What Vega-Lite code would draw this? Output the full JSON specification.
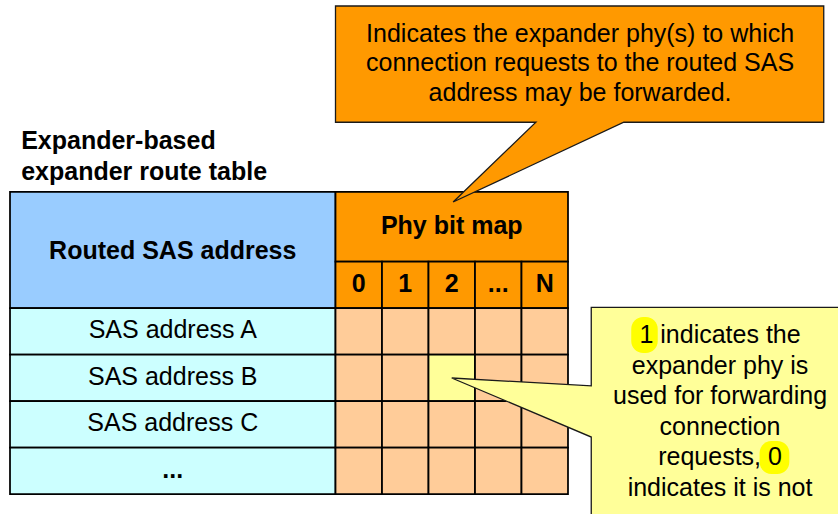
{
  "$schema": "https://vega.github.io/schema/vega-lite/v6.json",
  "width": 838,
  "height": 514,
  "autosize": {"type": "fit", "contains": "padding"},
  "padding": 0,
  "background": "#FFFFFF",
  "config": {"view": {"stroke": null}},
  "datasets": {
    "cells": [
      {"x": 0, "x2": 7, "y": 0, "y2": 2.5, "kind": "addrHead"},
      {"x": 7, "x2": 12, "y": 0, "y2": 1.5, "kind": "phyHead"},
      {"x": 7, "x2": 8, "y": 1.5, "y2": 2.5, "kind": "phyHead"},
      {"x": 8, "x2": 9, "y": 1.5, "y2": 2.5, "kind": "phyHead"},
      {"x": 9, "x2": 10, "y": 1.5, "y2": 2.5, "kind": "phyHead"},
      {"x": 10, "x2": 11, "y": 1.5, "y2": 2.5, "kind": "phyHead"},
      {"x": 11, "x2": 12, "y": 1.5, "y2": 2.5, "kind": "phyHead"},
      {"x": 0, "x2": 7, "y": 2.5, "y2": 3.5, "kind": "addr"},
      {"x": 0, "x2": 7, "y": 3.5, "y2": 4.5, "kind": "addr"},
      {"x": 0, "x2": 7, "y": 4.5, "y2": 5.5, "kind": "addr"},
      {"x": 0, "x2": 7, "y": 5.5, "y2": 6.5, "kind": "addr"},
      {"x": 7, "x2": 8, "y": 2.5, "y2": 3.5, "kind": "bit"},
      {"x": 8, "x2": 9, "y": 2.5, "y2": 3.5, "kind": "bit"},
      {"x": 9, "x2": 10, "y": 2.5, "y2": 3.5, "kind": "bit"},
      {"x": 10, "x2": 11, "y": 2.5, "y2": 3.5, "kind": "bit"},
      {"x": 11, "x2": 12, "y": 2.5, "y2": 3.5, "kind": "bit"},
      {"x": 7, "x2": 8, "y": 3.5, "y2": 4.5, "kind": "bit"},
      {"x": 8, "x2": 9, "y": 3.5, "y2": 4.5, "kind": "bit"},
      {"x": 9, "x2": 10, "y": 3.5, "y2": 4.5, "kind": "set"},
      {"x": 10, "x2": 11, "y": 3.5, "y2": 4.5, "kind": "bit"},
      {"x": 11, "x2": 12, "y": 3.5, "y2": 4.5, "kind": "bit"},
      {"x": 7, "x2": 8, "y": 4.5, "y2": 5.5, "kind": "bit"},
      {"x": 8, "x2": 9, "y": 4.5, "y2": 5.5, "kind": "bit"},
      {"x": 9, "x2": 10, "y": 4.5, "y2": 5.5, "kind": "bit"},
      {"x": 10, "x2": 11, "y": 4.5, "y2": 5.5, "kind": "bit"},
      {"x": 11, "x2": 12, "y": 4.5, "y2": 5.5, "kind": "bit"},
      {"x": 7, "x2": 8, "y": 5.5, "y2": 6.5, "kind": "bit"},
      {"x": 8, "x2": 9, "y": 5.5, "y2": 6.5, "kind": "bit"},
      {"x": 9, "x2": 10, "y": 5.5, "y2": 6.5, "kind": "bit"},
      {"x": 10, "x2": 11, "y": 5.5, "y2": 6.5, "kind": "bit"},
      {"x": 11, "x2": 12, "y": 5.5, "y2": 6.5, "kind": "bit"}
    ],
    "orangeCallout": [
      {"i": 0, "x": 7, "y": -4},
      {"i": 1, "x": 17.5, "y": -4},
      {"i": 2, "x": 17.5, "y": -1.5},
      {"i": 3, "x": 13.2, "y": -1.5},
      {"i": 4, "x": 9.53, "y": 0.215},
      {"i": 5, "x": 11.31, "y": -1.5},
      {"i": 6, "x": 7, "y": -1.5}
    ],
    "yellowCallout": [
      {"i": 0, "x": 12.5, "y": 2.48},
      {"i": 1, "x": 18.3, "y": 2.48},
      {"i": 2, "x": 18.3, "y": 7.4},
      {"i": 3, "x": 12.5, "y": 7.4},
      {"i": 4, "x": 12.5, "y": 5.27},
      {"i": 5, "x": 9.5, "y": 4.0},
      {"i": 6, "x": 12.5, "y": 4.17}
    ],
    "highlights": [
      {"x": 13.36, "x2": 13.93, "y": 2.688, "y2": 3.462},
      {"x": 16.12, "x2": 16.76, "y": 5.355, "y2": 6.065}
    ],
    "titleText": [
      {"x": 0.24, "y": -0.925, "text": "Expander-based"},
      {"x": 0.24, "y": -0.258, "text": "expander route table"}
    ],
    "boldText": [
      {"x": 3.5, "y": 1.441, "text": "Routed SAS address"},
      {"x": 9.5, "y": 0.903, "text": "Phy bit map"},
      {"x": 7.5, "y": 2.151, "text": "0"},
      {"x": 8.5, "y": 2.151, "text": "1"},
      {"x": 9.5, "y": 2.151, "text": "2"},
      {"x": 10.5, "y": 2.151, "text": "..."},
      {"x": 11.5, "y": 2.151, "text": "N"},
      {"x": 3.5, "y": 6.151, "text": "..."}
    ],
    "plainText": [
      {"x": 3.5, "y": 3.14, "text": "SAS address A"},
      {"x": 3.5, "y": 4.14, "text": "SAS address B"},
      {"x": 3.5, "y": 5.14, "text": "SAS address C"},
      {"x": 12.26, "y": -3.226, "text": "Indicates the expander phy(s) to which"},
      {"x": 12.26, "y": -2.595, "text": "connection requests to the routed SAS"},
      {"x": 12.26, "y": -1.965, "text": "address may be forwarded."},
      {"x": 15.27, "y": 3.247, "text": "1 indicates the"},
      {"x": 15.27, "y": 3.905, "text": "expander phy is"},
      {"x": 15.27, "y": 4.563, "text": "used for forwarding"},
      {"x": 15.27, "y": 5.221, "text": "connection"},
      {"x": 15.27, "y": 5.88, "text": "requests, 0"},
      {"x": 15.27, "y": 6.538, "text": "indicates it is not"}
    ]
  },
  "encoding": {
    "x": {"field": "x", "type": "quantitative", "scale": {"domain": [-0.2151, 17.8065], "nice": false, "zero": false}, "axis": null},
    "y": {"field": "y", "type": "quantitative", "scale": {"domain": [-4.129, 6.925], "nice": false, "zero": false, "reverse": true}, "axis": null}
  },
  "layer": [
    {
      "data": {"name": "cells"},
      "mark": {"type": "rect", "stroke": "#000000", "strokeWidth": 1.75},
      "encoding": {
        "x2": {"field": "x2"},
        "y2": {"field": "y2"},
        "color": {"field": "kind", "type": "nominal", "legend": null,
          "scale": {"domain": ["addrHead", "phyHead", "addr", "bit", "set"], "range": ["#99CCFF", "#FF9900", "#CCFFFF", "#FFCC99", "#FFFF99"]}}
      }
    },
    {
      "data": {"name": "orangeCallout"},
      "mark": {"type": "line", "interpolate": "linear-closed", "fill": "#FF9900", "stroke": "#1A1A1A", "strokeWidth": 1.3, "clip": true},
      "encoding": {"order": {"field": "i", "type": "quantitative"}}
    },
    {
      "data": {"name": "yellowCallout"},
      "mark": {"type": "line", "interpolate": "linear-closed", "fill": "#FFFF99", "stroke": "#1A1A1A", "strokeWidth": 1.3, "clip": true},
      "encoding": {"order": {"field": "i", "type": "quantitative"}}
    },
    {
      "data": {"name": "highlights"},
      "mark": {"type": "rect", "fill": "#FFFF00", "cornerRadius": 12},
      "encoding": {"x2": {"field": "x2"}, "y2": {"field": "y2"}}
    },
    {
      "data": {"name": "titleText"},
      "mark": {"type": "text", "align": "left", "baseline": "alphabetic", "font": "Liberation Sans", "fontSize": 25, "fontWeight": "bold", "color": "#000000"},
      "encoding": {"text": {"field": "text"}}
    },
    {
      "data": {"name": "boldText"},
      "mark": {"type": "text", "align": "center", "baseline": "alphabetic", "font": "Liberation Sans", "fontSize": 25, "fontWeight": "bold", "color": "#000000"},
      "encoding": {"text": {"field": "text"}}
    },
    {
      "data": {"name": "plainText"},
      "mark": {"type": "text", "align": "center", "baseline": "alphabetic", "font": "Liberation Sans", "fontSize": 25, "color": "#000000"},
      "encoding": {"text": {"field": "text"}}
    }
  ]
}
